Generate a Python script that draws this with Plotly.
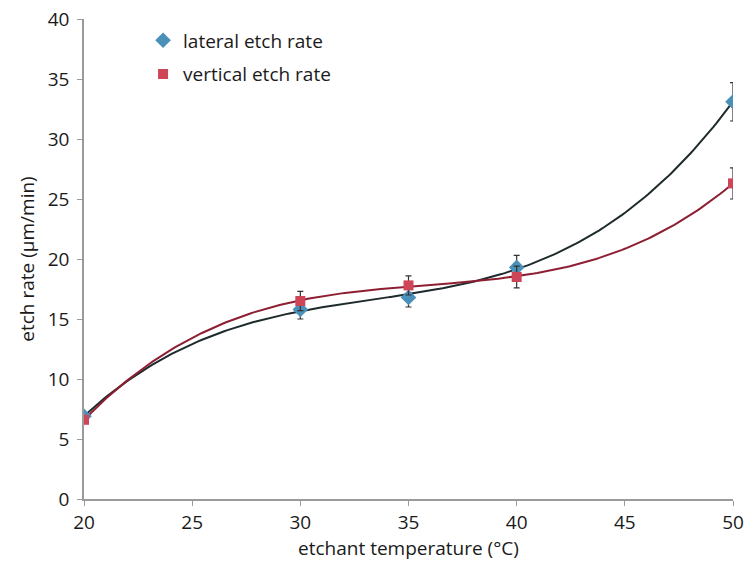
import numpy as np
import plotly.graph_objects as go

temps = [20, 30, 35, 40, 50]
lateral = [6.9, 15.8, 16.8, 19.3, 33.1]
lateral_err = [0.3, 0.8, 0.8, 1.0, 1.6]
vertical = [6.6, 16.5, 17.8, 18.5, 26.3]
vertical_err = [0.3, 0.8, 0.8, 0.9, 1.3]

x_ticks = [20, 25, 30, 35, 40, 45, 50]
y_ticks = [0, 5, 10, 15, 20, 25, 30, 35, 40]

font = "Open Sans, Liberation Sans, sans-serif"

# polynomial (order 3) trendlines fitted to the data, as in the original chart
xs = np.linspace(min(temps), max(temps), 200)
lat_fit = np.polyval(np.polyfit(temps, lateral, 3), xs)
ver_fit = np.polyval(np.polyfit(temps, vertical, 3), xs)

fig = go.Figure()
fig.add_trace(go.Scatter(x=xs, y=lat_fit, mode="lines", line=dict(color="#1e2a2c", width=2),
                         showlegend=False, hoverinfo="skip"))
fig.add_trace(go.Scatter(x=xs, y=ver_fit, mode="lines", line=dict(color="#8e1f33", width=2),
                         showlegend=False, hoverinfo="skip"))
fig.add_trace(go.Scatter(x=temps, y=lateral, mode="markers", name="lateral etch rate", legendgroup="a",
                         marker=dict(symbol="diamond", size=12, color="#4a90b8"),
                         error_y=dict(type="data", array=lateral_err, color="#333333", thickness=1.2, width=3)))
fig.add_trace(go.Scatter(x=temps, y=vertical, mode="markers", name="vertical etch rate", legendgroup="b",
                         marker=dict(symbol="square", size=10, color="#cf4558"),
                         error_y=dict(type="data", array=vertical_err, color="#333333", thickness=1.2, width=3)))

fig.update_layout(
    width=748, height=567,
    margin=dict(l=84, r=15, t=19, b=68, autoexpand=False),
    paper_bgcolor="white", plot_bgcolor="white",
    font=dict(family=font, size=19, color="#1a1a1a"),
    legend=dict(x=0.091, y=0.995, xanchor="left", yanchor="top", bgcolor="rgba(0,0,0,0)",
                font=dict(size=19), itemwidth=30, tracegroupgap=6, traceorder="grouped"),
    xaxis=dict(range=[20, 50], tickvals=x_ticks, showgrid=False, zeroline=False, automargin=False,
               showline=True, linecolor="#9a9a9a", linewidth=1.5, ticks="outside", ticklen=5,
               tickcolor="#9a9a9a", tickfont=dict(size=19),
               title=dict(text="etchant temperature (°C)", font=dict(size=19), standoff=4)),
    yaxis=dict(range=[0, 40], tickvals=y_ticks, showgrid=False, zeroline=False, automargin=False,
               showline=True, linecolor="#9a9a9a", linewidth=1.5, ticks="outside", ticklen=5,
               tickcolor="#9a9a9a", tickfont=dict(size=19), ticklabelstandoff=4,
               title=dict(text="etch rate (µm/min)", font=dict(size=19), standoff=8)),
)

fig.write_html("out.html")
